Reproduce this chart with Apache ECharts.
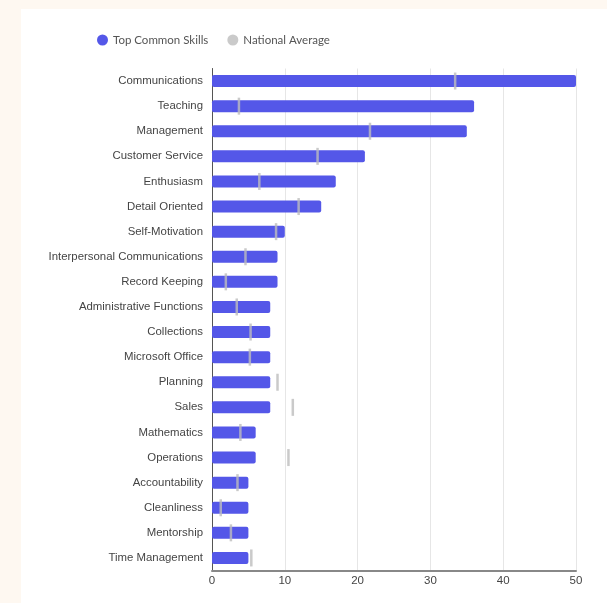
<!DOCTYPE html>
<html>
<head>
<meta charset="utf-8">
<script src="https://cdn.jsdelivr.net/npm/echarts@6/dist/echarts.min.js"></script>
<style>
  html, body { margin: 0; padding: 0; width: 607px; height: 603px; background: #fef8f1; overflow: hidden; }
  #card { position: absolute; left: 21px; top: 9px; right: 0; bottom: 0; background: #ffffff; }
  #chart { position: absolute; left: 0; top: 0; width: 607px; height: 603px; }
</style>
</head>
<body>
<div id="card"></div>
<div id="chart"></div>
<script>
// Skills, in the order they are listed top to bottom
const skills = [
  'Communications', 'Teaching', 'Management', 'Customer Service', 'Enthusiasm',
  'Detail Oriented', 'Self-Motivation', 'Interpersonal Communications', 'Record Keeping',
  'Administrative Functions', 'Collections', 'Microsoft Office', 'Planning', 'Sales',
  'Mathematics', 'Operations', 'Accountability', 'Cleanliness', 'Mentorship', 'Time Management'
];
// Share of postings mentioning each skill
const topCommonSkills = [50, 36, 35, 21, 17, 15, 10, 9, 9, 8, 8, 8, 8, 8, 6, 6, 5, 5, 5, 5];
// National average for the same skills
const nationalAverage = [33.4, 3.7, 21.7, 14.5, 6.5, 11.9, 8.8, 4.6, 1.9, 3.4, 5.3, 5.2, 9.0, 11.1, 3.9, 10.5, 3.5, 1.2, 2.6, 5.4];
const xTicks = [0, 10, 20, 30, 40, 50];

const chart = echarts.init(document.getElementById('chart'), null, { renderer: 'canvas' });
chart.setOption({
  animation: false,
  textStyle: { fontFamily: 'Liberation Sans, Arial, sans-serif' },
  legend: {
    left: 92, top: 29,
    icon: 'circle', itemWidth: 11, itemHeight: 11, itemGap: 19,
    textStyle: { fontFamily: 'Lato, sans-serif', fontSize: 11.5, color: '#555' },
    data: ['Top Common Skills', 'National Average']
  },
  grid: { left: 212, right: 31, top: 68.5, bottom: 32.5, containLabel: false },
  xAxis: {
    type: 'value', min: xTicks[0], max: xTicks[xTicks.length - 1], interval: 10,
    axisLine: { show: true, lineStyle: { color: '#888', width: 2 } },
    axisTick: { show: false },
    axisLabel: { color: '#444', fontSize: 11.5, margin: 4 },
    splitLine: { lineStyle: { color: '#e6e6e6', width: 1 } }
  },
  yAxis: {
    type: 'category', data: skills, inverse: true,
    axisLine: { show: true, lineStyle: { color: '#555', width: 1 } },
    axisTick: { show: false },
    axisLabel: { color: '#444', fontSize: 11.4, margin: 9 }
  },
  series: [
    {
      name: 'Top Common Skills', type: 'bar', data: topCommonSkills,
      barWidth: 12,
      itemStyle: { color: '#5457e8', borderRadius: 2 },
      z: 2
    },
    {
      name: 'National Average', type: 'scatter', data: nationalAverage,
      symbol: 'rect', symbolSize: [2.5, 17],
      itemStyle: { color: '#bdbdbd' },
      z: 3
    }
  ]
});
</script>
</body>
</html>
